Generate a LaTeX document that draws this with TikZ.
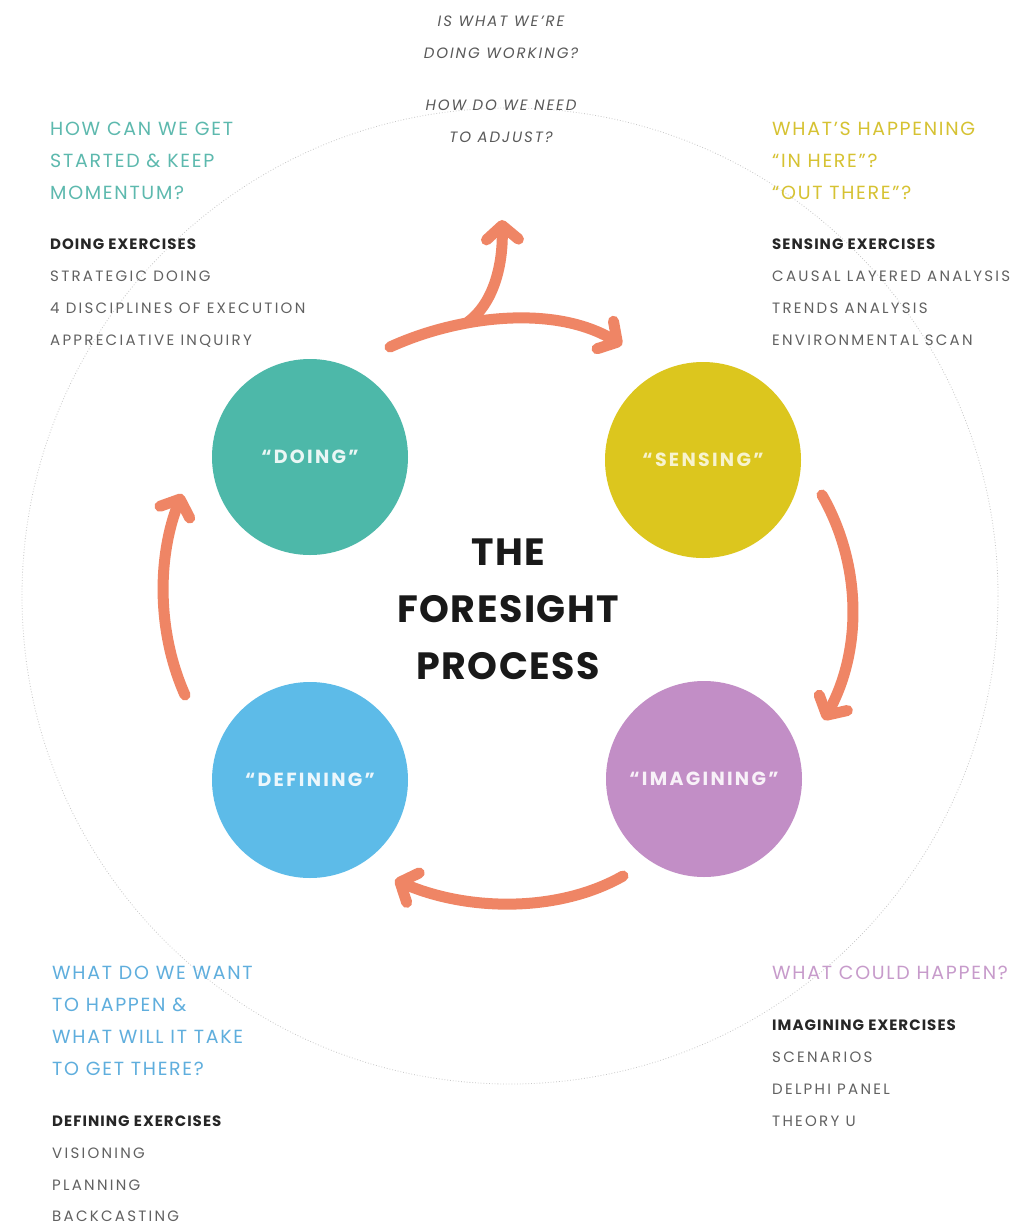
\documentclass[tikz,border=0pt]{standalone}
\usepackage{fontspec}
\setmainfont{Poppins}
\usetikzlibrary{arrows.meta}
\definecolor{arrc}{HTML}{EF8565}
\definecolor{cteal}{HTML}{4DB8A9}
\definecolor{cyel}{HTML}{DCC61E}
\definecolor{cblue}{HTML}{5DBBE8}
\definecolor{cpurp}{HTML}{C28EC6}
\definecolor{tteal}{HTML}{5DB9AE}
\definecolor{tyel}{HTML}{D6C232}
\definecolor{tblue}{HTML}{5FAEDD}
\definecolor{tpurp}{HTML}{C79BCB}
\tikzset{
  arr/.style={draw=arrc, line width=11pt, line cap=round,
    -{Straight Barb[length=14pt,width=32pt,round]}},
  blob/.style={circle, minimum size=196pt, inner sep=0pt,
    font=\fontsize{19}{19}\selectfont\bfseries\addfontfeature{LetterSpace=12}},
  hd/.style={anchor=base west, inner sep=0pt, font=\fontsize{19}{19}\selectfont\addfontfeature{LetterSpace=9}},
  exh/.style={anchor=base west, inner sep=0pt, text=black!85, font=\fontsize{15}{15}\selectfont\bfseries\addfontfeature{LetterSpace=7}},
  exl/.style={anchor=base west, inner sep=0pt, text=black!62, font=\fontsize{15}{15}\selectfont\addfontfeature{LetterSpace=15}},
  qtop/.style={anchor=base, inner sep=0pt, text=black!65, font=\fontsize{15}{15}\selectfont\itshape\addfontfeature{LetterSpace=13}},
  ttl/.style={anchor=base, inner sep=0pt, text=black!90, font=\fontsize{38}{38}\selectfont\bfseries\addfontfeature{LetterSpace=4}}
}
\begin{document}
\begin{tikzpicture}[x=1pt,y=-1pt]
\useasboundingbox (0,0) rectangle (1019,1224);
\fill[white] (0,0) rectangle (1019,1224);
% faint outer circle
\draw[black!22, dotted, line width=0.8pt] (510,596) circle (488);
% circles
\node[blob, fill=cteal, text=cteal!12!white] (doing) at (310,457) {“DOING”};
\node[blob, fill=cyel, text=cyel!22!white] (sensing) at (703,460) {“SENSING”};
\node[blob, fill=cblue, text=cblue!12!white] (defining) at (310,780) {“DEFINING”};
\node[blob, fill=cpurp, text=cpurp!12!white] (imagining) at (704,779) {“IMAGINING”};
% title
\node[ttl] (t1) at (508,565) {THE};
\node[ttl] (t2) at (508,622) {FORESIGHT};
\node[ttl] (t3) at (508,679) {PROCESS};
% arrows
\coordinate (a1s) at (390,347);
\coordinate (a1e) at (622,345);
\coordinate (a1b) at (468,322);
\coordinate (a1t) at (502,220);
\draw[arr] (a1s) .. controls (460,315) and (555,305) .. (a1e);
\draw[arr] (a1b) .. controls (495,302) and (503,262) .. (a1t);
\coordinate (a2s) at (822,495);
\coordinate (a2e) at (824,720);
\draw[arr] (a2s) .. controls (862,565) and (862,650) .. (a2e);
\coordinate (a3s) at (623,876);
\coordinate (a3e) at (395,880);
\draw[arr] (a3s) .. controls (560,912) and (470,912) .. (a3e);
\coordinate (a4s) at (185,695);
\coordinate (a4e) at (182,494);
\draw[arr] (a4s) .. controls (156,630) and (158,555) .. (a4e);
% top questions
\node[qtop] (q1) at (501,26) {IS WHAT WE’RE};
\node[qtop] (q2) at (501,58) {DOING WORKING?};
\node[qtop] (q3) at (501,110) {HOW DO WE NEED};
\node[qtop] (q4) at (501,142) {TO ADJUST?};
% doing block
\node[hd, text=tteal] (dh1) at (50,135) {HOW CAN WE GET};
\node[hd, text=tteal] (dh2) at (50,167) {STARTED \& KEEP};
\node[hd, text=tteal] (dh3) at (50,199) {MOMENTUM?};
\node[exh] (de0) at (50,249.5) {DOING EXERCISES};
\node[exl] (de1) at (50,281.5) {STRATEGIC DOING};
\node[exl] (de2) at (50,313.5) {4 DISCIPLINES OF EXECUTION};
\node[exl] (de3) at (50,345.5) {APPRECIATIVE INQUIRY};
% sensing block
\node[hd, text=tyel] (sh1) at (772,135) {WHAT’S HAPPENING};
\node[hd, text=tyel] (sh2) at (772,167) {“IN HERE”?};
\node[hd, text=tyel] (sh3) at (772,199) {“OUT THERE”?};
\node[exh] (se0) at (772,249.5) {SENSING EXERCISES};
\node[exl] (se1) at (772,281.5) {CAUSAL LAYERED ANALYSIS};
\node[exl] (se2) at (772,313.5) {TRENDS ANALYSIS};
\node[exl] (se3) at (772,345.5) {ENVIRONMENTAL SCAN};
% defining block
\node[hd, text=tblue] (fh1) at (52,979) {WHAT DO WE WANT};
\node[hd, text=tblue] (fh2) at (52,1011) {TO HAPPEN \&};
\node[hd, text=tblue] (fh3) at (52,1043) {WHAT WILL IT TAKE};
\node[hd, text=tblue] (fh4) at (52,1075) {TO GET THERE?};
\node[exh] (fe0) at (52,1126.5) {DEFINING EXERCISES};
\node[exl] (fe1) at (52,1158.5) {VISIONING};
\node[exl] (fe2) at (52,1190.5) {PLANNING};
\node[exl] (fe3) at (52,1221) {BACKCASTING};
% imagining block
\node[hd, text=tpurp] (ih1) at (772,979) {WHAT COULD HAPPEN?};
\node[exh] (ie0) at (772,1030.5) {IMAGINING EXERCISES};
\node[exl] (ie1) at (772,1062.5) {SCENARIOS};
\node[exl] (ie2) at (772,1094.5) {DELPHI PANEL};
\node[exl] (ie3) at (772,1126.5) {THEORY U};
\end{tikzpicture}
\end{document}
